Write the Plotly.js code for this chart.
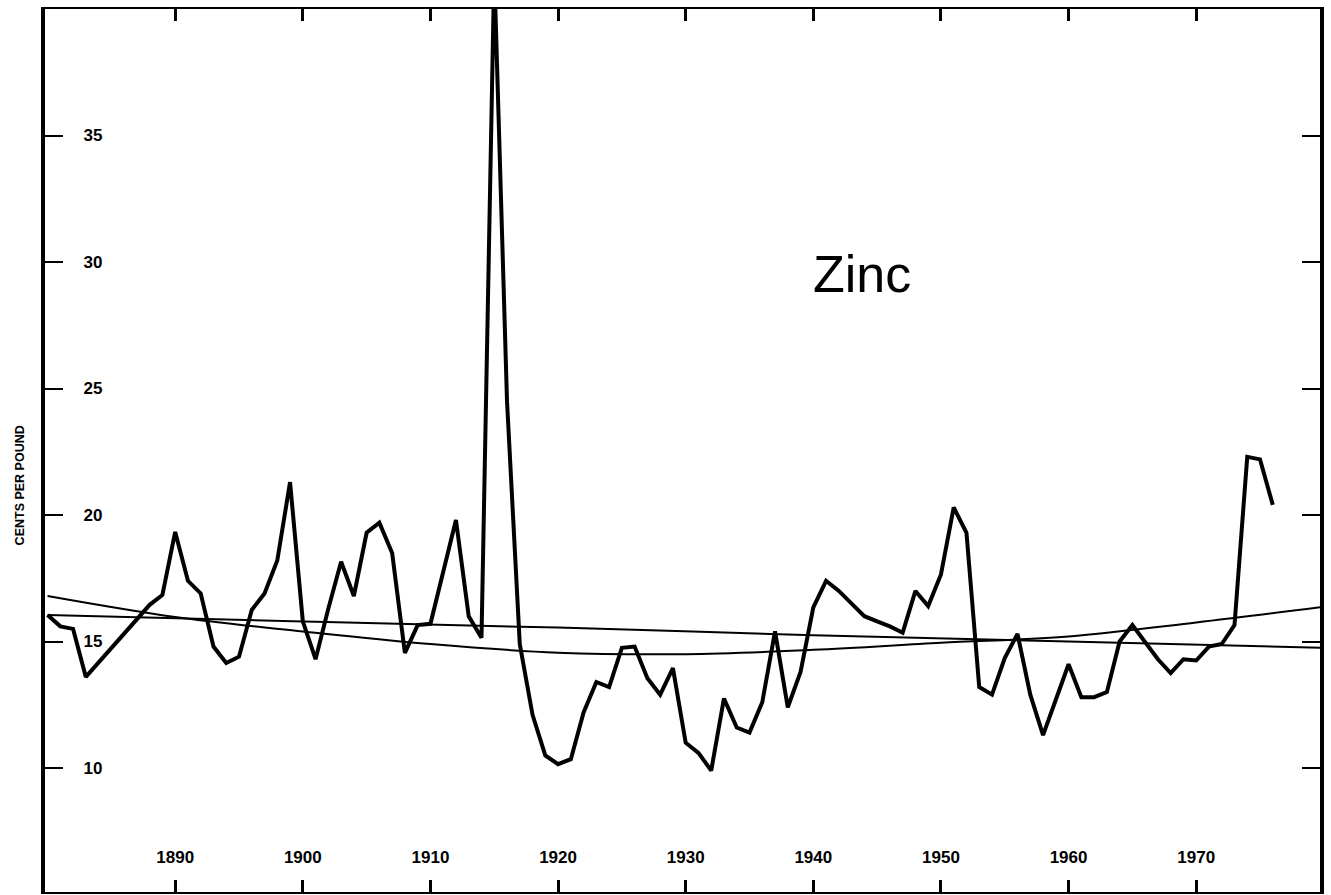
<!DOCTYPE html>
<html>
<head>
<meta charset="utf-8">
<script src="https://cdn.plot.ly/plotly-3.0.1.min.js"></script>
<style>
  html, body { margin: 0; padding: 0; background: #ffffff; }
  #chart { width: 1331px; height: 895px; }
</style>
</head>
<body>
<div id="chart"></div>
<script>
// Zinc price, cents per pound
const years = [1880, 1881, 1882, 1883, 1888, 1889,
  1890, 1891, 1892, 1893, 1894, 1895, 1896, 1897, 1898, 1899,
  1900, 1901, 1902, 1903, 1904, 1905, 1906, 1907, 1908, 1909,
  1910, 1911, 1912, 1913, 1914, 1915, 1916, 1917, 1918, 1919,
  1920, 1921, 1922, 1923, 1924, 1925, 1926, 1927, 1928, 1929,
  1930, 1931, 1932, 1933, 1934, 1935, 1936, 1937, 1938, 1939,
  1940, 1941, 1942, 1943, 1944, 1945, 1946, 1947, 1948, 1949,
  1950, 1951, 1952, 1953, 1954, 1955, 1956, 1957, 1958, 1959,
  1960, 1961, 1962, 1963, 1964, 1965, 1966, 1967, 1968, 1969,
  1970, 1971, 1972, 1973, 1974, 1975, 1976];
const price = [16.05, 15.6, 15.5, 13.6, 16.45, 16.84,
  19.33, 17.4, 16.9, 14.8, 14.15, 14.4, 16.25, 16.9, 18.2, 21.3,
  15.8, 14.3, 16.3, 18.15, 16.8, 19.3, 19.7, 18.5, 14.55, 15.65,
  15.7, 17.7, 19.8, 16.0, 15.15, 41.5, 24.5, 14.9, 12.1, 10.5,
  10.15, 10.35, 12.2, 13.4, 13.2, 14.75, 14.8, 13.55, 12.9, 13.95,
  11.0, 10.6, 9.9, 12.75, 11.6, 11.4, 12.6, 15.4, 12.4, 13.8,
  16.35, 17.4, 17.0, 16.5, 16.0, 15.8, 15.6, 15.35, 17.0, 16.4,
  17.65, 20.3, 19.3, 13.2, 12.9, 14.35, 15.3, 12.9, 11.3, 12.7,
  14.1, 12.8, 12.8, 13.0, 15.0, 15.65, 15.0, 14.3, 13.75, 14.3,
  14.25, 14.8, 14.9, 15.65, 22.3, 22.2, 20.4];

// Linear trend (read at points along the line)
const linYears = [1880, 1900, 1920, 1940, 1960, 1980];
const linTrend = [16.05, 15.79, 15.55, 15.25, 15.0, 14.75];

// Quadratic trend (read at points along the curve)
const quadYears = [1880, 1890, 1900, 1910, 1920, 1930, 1940, 1950, 1960, 1970, 1980];
const quadTrend = [16.8, 15.97, 15.4, 14.9, 14.56, 14.5, 14.67, 14.95, 15.2, 15.75, 16.37];

const xTicks = [1890, 1900, 1910, 1920, 1930, 1940, 1950, 1960, 1970];
const xTickText = ['1890', '1900', '1910', '1920', '1930', '1940', '1950', '1960', '1970'];
const yTicks = [10, 15, 20, 25, 30, 35];
const yTickText = ['10', '15', '20', '25', '30', '35'];

const yTitle = 'CENTS PER POUND';
const chartLabel = 'Zinc';

const traces = [
  {x: linYears, y: linTrend, type: 'scatter', mode: 'lines',
   line: {color: '#000', width: 2, shape: 'spline'}, hoverinfo: 'skip'},
  {x: quadYears, y: quadTrend, type: 'scatter', mode: 'lines',
   line: {color: '#000', width: 2, shape: 'spline'}, hoverinfo: 'skip'},
  {x: years, y: price, type: 'scatter', mode: 'lines',
   line: {color: '#000', width: 4, shape: 'linear'}}
];

const tickFont = {family: 'Liberation Sans, Arial, sans-serif', size: 17, color: '#000', weight: 'bold'};

const layout = {
  width: 1331, height: 895,
  margin: {l: 45, r: 11, t: 9, b: 3},
  paper_bgcolor: '#fff', plot_bgcolor: '#fff',
  showlegend: false,
  xaxis: {
    range: [1879.8, 1979.7],
    tickvals: xTicks, ticktext: xTickText,
    ticks: 'inside', ticklen: 12, tickwidth: 3, tickcolor: '#000',
    ticklabelposition: 'inside', ticklabelstandoff: 14,
    showline: true, linewidth: 2, linecolor: '#000', mirror: 'ticks',
    showgrid: false, zeroline: false,
    tickfont: tickFont
  },
  yaxis: {
    range: [5.1, 40.0],
    tickvals: yTicks, ticktext: yTickText,
    ticks: 'inside', ticklen: 18, tickwidth: 2, tickcolor: '#000',
    ticklabelposition: 'inside', ticklabelstandoff: 21,
    showline: true, linewidth: 4, linecolor: '#000', mirror: 'ticks',
    showgrid: false, zeroline: false,
    tickfont: tickFont
  },
  annotations: [
    {text: yTitle, xref: 'paper', yref: 'paper', x: -0.027, y: 0.46,
     textangle: -90, showarrow: false,
     font: {family: 'Liberation Sans, Arial, sans-serif', size: 12.5, color: '#000', weight: 'bold'}},
    {text: chartLabel, xref: 'paper', yref: 'paper', x: 0.641, y: 0.70,
     showarrow: false, xanchor: 'center', yanchor: 'middle',
     font: {family: 'Liberation Sans, Arial, sans-serif', size: 52, color: '#000'}}
  ]
};

Plotly.newPlot('chart', traces, layout, {staticPlot: true, displayModeBar: false});
</script>
</body>
</html>
